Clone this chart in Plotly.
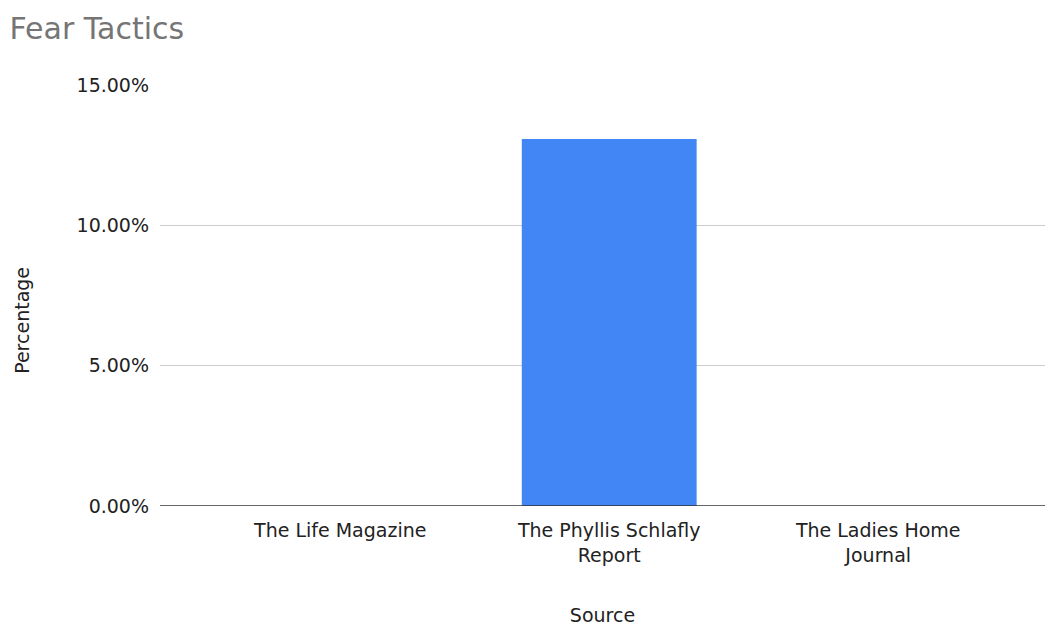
import plotly.graph_objects as go

categories = ["The Life Magazine", "The Phyllis Schlafly<br>Report", "The Ladies Home<br>Journal"]
values = [0.0, 0.1308, 0.0]
y_ticks = [0, 0.05, 0.10, 0.15]

FONT = "DejaVu Sans, Liberation Sans, Arial"

fig = go.Figure()
fig.add_trace(go.Bar(
    x=[0, 1, 2], y=values, marker_color="#4285F4", width=0.65,
    marker_line_width=0,
))
fig.update_layout(
    width=1047, height=626,
    margin=dict(l=160, r=2, t=85, b=120),
    paper_bgcolor="white", plot_bgcolor="white",
    showlegend=False,
    font=dict(family=FONT, size=19, color="#222"),
    title=dict(text="Fear Tactics", x=0.009, xanchor="left", y=0.955, yanchor="middle",
               font=dict(family=FONT, size=30, color="#757575")),
    xaxis=dict(
        tickmode="array", tickvals=[0, 1, 2], ticktext=categories,
        range=[-0.67, 2.62], showgrid=False, showline=False, zeroline=False,
        ticks="", ticklabelstandoff=11, tickfont=dict(size=19, color="#222"),
        title=dict(text="Source", font=dict(size=19, color="#222"), standoff=43),
    ),
    yaxis=dict(
        range=[0, 0.15], tickvals=y_ticks, tickformat=".2%",
        showgrid=True, gridcolor="#cccccc", gridwidth=1,
        zeroline=False, showline=False, ticks="", ticklabelstandoff=10,
        tickfont=dict(size=19, color="#222"),
    ),
    annotations=[dict(
        text="Percentage", xref="paper", yref="paper", x=-0.156, y=0.442,
        xanchor="center", yanchor="middle", textangle=-90, showarrow=False,
        font=dict(family=FONT, size=19, color="#222"),
    )],
)
fig.add_shape(type="line", xref="paper", yref="y", x0=0, x1=1, y0=0, y1=0,
              line=dict(color="#333333", width=1.5))
fig.write_html("out.html")
